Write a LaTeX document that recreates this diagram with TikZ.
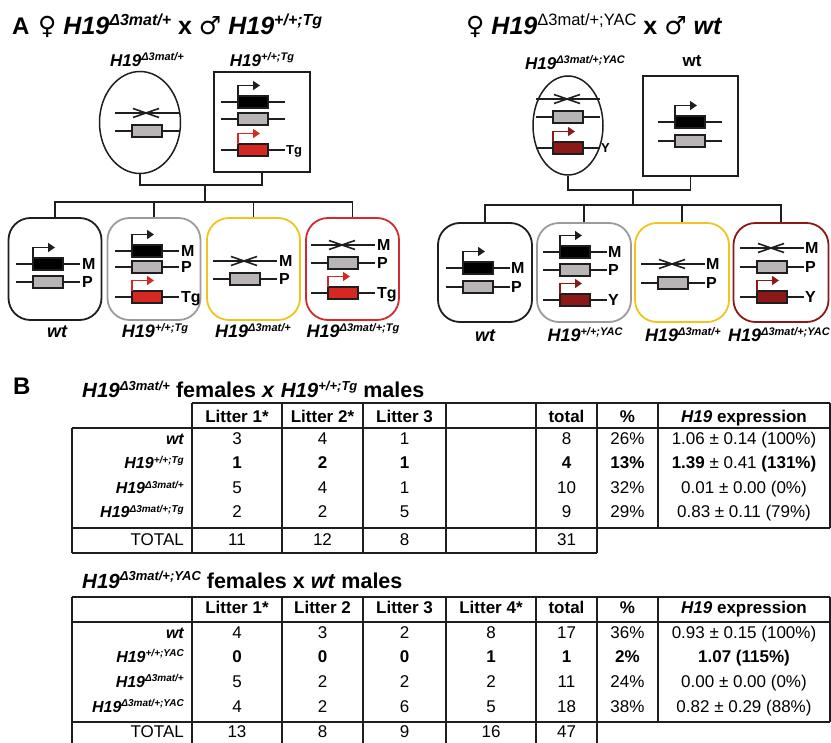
\documentclass[tikz,border=0pt]{standalone}
\usepackage{fontspec}
\setmainfont{Liberation Sans}
\newfontfamily\symfont{DejaVu Sans}
\usetikzlibrary{shapes.geometric,arrows.meta}

\definecolor{ink}{RGB}{30,30,30}
\definecolor{boxgray}{RGB}{185,181,183}
\definecolor{tgred}{RGB}{214,40,32}
\definecolor{yacred}{RGB}{140,24,24}
\definecolor{kidgray}{RGB}{156,154,154}
\definecolor{kidyellow}{RGB}{240,196,30}
\definecolor{kidred}{RGB}{212,42,42}

\newcommand{\fsz}[1]{\fontsize{#1}{#1}\selectfont}
\newcommand{\hgeno}[3]{{\bfseries\itshape\fsz{#1}H19\raisebox{0.36em}{\fsz{#2}#3}}}

\begin{document}
\begin{tikzpicture}[x=1pt,y=-1pt,
  dna/.style={line width=1.6pt,draw=ink},
  tss/.style={line width=1.6pt,-{Triangle[length=7pt,width=9pt]}},
  parent/.style={draw=ink,line width=1.5pt,inner sep=0pt},
  kid/.style={draw,line width=1.8pt,rounded corners=22pt,minimum width=93pt,minimum height=102pt,inner sep=0pt},
  link/.style={line width=1.6pt,draw=ink},
  lab/.style={anchor=base west,inner sep=0pt,font=\fsz{16}\bfseries},
  tlab/.style={anchor=base west,inner sep=0pt,font=\fsz{13}\bfseries},
  glab/.style={anchor=base,inner sep=0pt},
  cell/.style={anchor=base,inner sep=0pt,font=\fsz{17}},
  rowlab/.style={anchor=base east,inner sep=0pt},
  grid/.style={line width=1.3pt,draw=ink}]

  \useasboundingbox (0,0) rectangle (831,743);

  % Allele drawing helpers: box left x, line y
  \def\allele#1#2#3{%
    \draw[dna] (#1-17,#2) -- (#1+47,#2);
    \draw[dna,fill=#3] (#1,#2-6) rectangle (#1+30,#2+6);}
  \def\promoter#1#2#3{%
    \draw[tss,#3] (#1,#2-6) -- (#1,#2-16.5) -- (#1+22,#2-16.5);}
  \def\deleted#1#2{%
    \draw[dna] (#1-17,#2) -- (#1+47,#2);
    \draw[dna] (#1+1,#2-4.5) -- (#1+27,#2+4.5);
    \draw[dna] (#1+1,#2+4.5) -- (#1+27,#2-4.5);}

  % ---------------- Panel A, left cross ----------------
  \node[anchor=base west,inner sep=0pt,font=\fsz{24}\bfseries] (headA) at (12,35) {A};
  \node[anchor=base west,inner sep=0pt,font=\fsz{25}\bfseries] (crossA) at (38,35)
    {{\symfont ♀} \hgeno{25}{16}{Δ3mat/+} x {\symfont ♂} \hgeno{25}{16}{+/+;Tg}};

  % Parents
  \node[glab] (labfa) at (147,67) {\hgeno{17}{11}{Δ3mat/+}};
  \node[glab] (labma) at (262,67) {\hgeno{17}{11}{+/+;Tg}};
  \node[parent,ellipse,minimum width=81pt,minimum height=102pt] (fa) at (140,122.5) {};
  \node[parent,minimum width=96pt,minimum height=100pt] (ma) at (262,122) {};

  \deleted{132}{113}
  \allele{132}{131}{boxgray}

  \allele{238}{102}{black}
  \promoter{238}{102}{ink}
  \allele{238}{119}{boxgray}
  \allele{238}{150}{tgred}
  \promoter{238}{150}{tgred}
  \node[tlab] (tgma) at (286,154.7) {Tg};

  % Offspring
  \node[kid,draw=ink] (k1) at (55,269) {};
  \node[kid,draw=kidgray] (k2) at (154,269) {};
  \node[kid,draw=kidyellow] (k3) at (253.5,269) {};
  \node[kid,draw=kidred] (k4) at (352.5,269) {};

  % wt
  \allele{33}{264}{black}
  \promoter{33}{264}{ink}
  \allele{33}{282}{boxgray}
  \node[lab] (k1m) at (82,270) {M};
  \node[lab] (k1p) at (82,288) {P};
  % +/+;Tg
  \allele{132}{251}{black}
  \promoter{132}{251}{ink}
  \allele{132}{267}{boxgray}
  \allele{132}{297}{tgred}
  \promoter{132}{297}{tgred}
  \node[lab] (k2m) at (181,257) {M};
  \node[lab] (k2p) at (181,273) {P};
  \node[lab] (k2t) at (181,303) {Tg};
  % delta3mat/+
  \deleted{230}{261}
  \allele{230}{279}{boxgray}
  \node[lab] (k3m) at (279,267) {M};
  \node[lab] (k3p) at (279,285) {P};
  % delta3mat/+;Tg
  \deleted{328}{245}
  \allele{328}{263}{boxgray}
  \allele{328}{293}{tgred}
  \promoter{328}{293}{tgred}
  \node[lab] (k4m) at (377,251) {M};
  \node[lab] (k4p) at (377,269) {P};
  \node[lab] (k4t) at (377,299) {Tg};

  \node[glab,font=\fsz{18}\bfseries\itshape] (wk1) at (57,338) {wt};
  \node[glab] (wk2) at (155,338) {\hgeno{18}{11}{+/+;Tg}};
  \node[glab] (wk3) at (253,338) {\hgeno{18}{11}{Δ3mat/+}};
  \node[glab] (wk4) at (353,338) {\hgeno{18}{11}{Δ3mat/+;Tg}};

  % Pedigree lines
  \coordinate (ja) at (205,185);
  \coordinate (ba) at (205,202);
  \draw[link] (fa.south) |- (ja) -| (ma.south);
  \draw[link] (ja) -- (ba);
  \draw[link] (k1.north) |- (ba) -| (k4.north);
  \draw[link] (k2.north) -- (k2.north |- ba);
  \draw[link] (k3.north) -- (k3.north |- ba);

  % ---------------- Panel A, right cross ----------------
  \node[anchor=base west,inner sep=0pt,font=\fsz{25}\bfseries] (crossB) at (466,35)
    {{\symfont ♀} {\itshape H19}\raisebox{0.36em}{\fsz{16.5}\mdseries Δ3mat/+;YAC} x {\symfont ♂} \textit{wt}};

  % Parents
  \node[glab] (labfb) at (575,70) {\hgeno{17}{11}{Δ3mat/+;YAC}};
  \node[glab,font=\fsz{17}\bfseries] (labmb) at (692,67) {wt};
  \node[parent,ellipse,minimum width=70pt,minimum height=99pt] (fb) at (568,125.5) {};
  \node[parent,minimum width=95pt,minimum height=100pt] (mb) at (690.5,126) {};

  \deleted{553}{99}
  \allele{553}{117}{boxgray}
  \allele{553}{148}{yacred}
  \promoter{553}{148}{yacred}
  \node[tlab] (yfb) at (601,152.7) {Y};

  \allele{675}{122}{black}
  \promoter{675}{122}{ink}
  \allele{675}{141}{boxgray}

  % Offspring
  \node[kid,draw=ink,minimum width=94pt,minimum height=99pt] (r1) at (485,272.5) {};
  \node[kid,draw=kidgray,minimum width=94pt,minimum height=99pt] (r2) at (584,272.5) {};
  \node[kid,draw=kidyellow,minimum width=94pt,minimum height=99pt] (r3) at (682,272.5) {};
  \node[kid,draw=yacred,minimum width=95pt,minimum height=99pt] (r4) at (781,272.5) {};

  % wt
  \allele{463}{268}{black}
  \promoter{463}{268}{ink}
  \allele{463}{287}{boxgray}
  \node[lab] (r1m) at (511,274) {M};
  \node[lab] (r1p) at (511,293) {P};
  % +/+;YAC
  \allele{560}{252}{black}
  \promoter{560}{252}{ink}
  \allele{560}{270}{boxgray}
  \allele{560}{300}{yacred}
  \promoter{560}{300}{yacred}
  \node[lab] (r2m) at (608,258) {M};
  \node[lab] (r2p) at (608,276) {P};
  \node[lab] (r2y) at (608,306) {Y};
  % delta3mat/+
  \deleted{658}{264}
  \allele{658}{283}{boxgray}
  \node[lab] (r3m) at (706,270) {M};
  \node[lab] (r3p) at (706,289) {P};
  % delta3mat/+;YAC
  \deleted{757}{248}
  \allele{757}{267}{boxgray}
  \allele{757}{297}{yacred}
  \promoter{757}{297}{yacred}
  \node[lab] (r4m) at (805,254) {M};
  \node[lab] (r4p) at (805,273) {P};
  \node[lab] (r4y) at (805,303) {Y};

  \node[glab,font=\fsz{18}\bfseries\itshape] (wr1) at (485,342) {wt};
  \node[glab] (wr2) at (585,342) {\hgeno{18}{11}{+/+;YAC}};
  \node[glab] (wr3) at (683,342) {\hgeno{18}{11}{Δ3mat/+}};
  \node[glab] (wr4) at (779,342) {\hgeno{18}{11}{Δ3mat/+;YAC}};

  % Pedigree lines
  \coordinate (jb) at (633,190);
  \coordinate (bb) at (633,205);
  \draw[link] (fb.south) |- (jb) -| (mb.south);
  \draw[link] (jb) -- (bb);
  \draw[link] (r1.north) |- (bb) -| (r4.north);
  \draw[link] (r2.north) -- (r2.north |- bb);
  \draw[link] (r3.north) -- (r3.north |- bb);

  % ---------------- Panel B, first table ----------------
  \node[anchor=base west,inner sep=0pt,font=\fsz{24}\bfseries] (headB) at (13,395) {B};
  \node[anchor=base west,inner sep=0pt,font=\fsz{21.5}\bfseries] (ttlA) at (82,398)
    {\hgeno{20.5}{13}{Δ3mat/+} females \textit{x} \hgeno{20.5}{13}{+/+;Tg} males};

  \draw[grid] (192,403) -- (830,403) (72,428) -- (830,428) (72,528) -- (830,528) (72,553) -- (597,553);
  \draw[grid] (72,428) -- (72,553) (192,403) -- (192,553) (282,403) -- (282,553) (363,403) -- (363,553)
    (446,403) -- (446,553) (536,403) -- (536,553) (597,403) -- (597,553) (658,403) -- (658,528) (830,403) -- (830,528);

  \node[cell,font=\fsz{17}\bfseries] (p01) at (237,423) {Litter 1*};
  \node[cell,font=\fsz{17}\bfseries] (p02) at (322.5,423) {Litter 2*};
  \node[cell,font=\fsz{17}\bfseries] (p03) at (404.5,423) {Litter 3};
  \node[cell,font=\fsz{17}\bfseries] (p05) at (566.5,423) {total};
  \node[cell,font=\fsz{17}\bfseries] (p06) at (627.5,423) {\%};
  \node[cell,font=\fsz{17}\bfseries] (p07) at (744,423) {\textit{H19} expression};

  \node[rowlab,font=\fsz{16}\bfseries\itshape] (p10) at (184,445) {wt};
  \node[rowlab] (p20) at (184,469) {\hgeno{16}{10}{+/+;Tg}};
  \node[rowlab] (p30) at (184,494) {\hgeno{16}{10}{Δ3mat/+}};
  \node[rowlab] (p40) at (184,518) {\hgeno{16}{10}{Δ3mat/+;Tg}};
  \node[rowlab,font=\fsz{17}] (p50) at (184,545) {TOTAL};

  \node[cell] (p11) at (237,445) {3};   \node[cell] (p12) at (322.5,445) {4};
  \node[cell] (p13) at (404.5,445) {1}; \node[cell] (p15) at (566.5,445) {8};
  \node[cell] (p16) at (627.5,445) {26\%};
  \node[cell] (p17) at (744,445) {1.06 ± 0.14 (100\%)};

  \node[cell,font=\fsz{17}\bfseries] (p21) at (237,469) {1};
  \node[cell,font=\fsz{17}\bfseries] (p22) at (322.5,469) {2};
  \node[cell,font=\fsz{17}\bfseries] (p23) at (404.5,469) {1};
  \node[cell,font=\fsz{17}\bfseries] (p25) at (566.5,469) {4};
  \node[cell,font=\fsz{17}\bfseries] (p26) at (627.5,469) {13\%};
  \node[cell] (p27) at (744,469) {\textbf{1.39} ± 0.41 \textbf{(131\%)}};

  \node[cell] (p31) at (237,494) {5};   \node[cell] (p32) at (322.5,494) {4};
  \node[cell] (p33) at (404.5,494) {1}; \node[cell] (p35) at (566.5,494) {10};
  \node[cell] (p36) at (627.5,494) {32\%};
  \node[cell] (p37) at (744,494) {0.01 ± 0.00 (0\%)};

  \node[cell] (p41) at (237,518) {2};   \node[cell] (p42) at (322.5,518) {2};
  \node[cell] (p43) at (404.5,518) {5}; \node[cell] (p45) at (566.5,518) {9};
  \node[cell] (p46) at (627.5,518) {29\%};
  \node[cell] (p47) at (744,518) {0.83 ± 0.11 (79\%)};

  \node[cell] (p51) at (237,545) {11};  \node[cell] (p52) at (322.5,545) {12};
  \node[cell] (p53) at (404.5,545) {8}; \node[cell] (p55) at (566.5,545) {31};

  % ---------------- Panel B, second table ----------------
  \node[anchor=base west,inner sep=0pt,font=\fsz{21.5}\bfseries] (ttlB) at (82,588)
    {\hgeno{20.5}{13}{Δ3mat/+;YAC} females x \textit{wt} males};

  \draw[grid] (72,597) -- (830,597) (72,622) -- (830,622) (72,722) -- (830,722);
  \draw[grid] (72,597) -- (72,750) (192,597) -- (192,750) (282,597) -- (282,750) (363,597) -- (363,750)
    (446,597) -- (446,750) (536,597) -- (536,750) (597,597) -- (597,750) (658,597) -- (658,722) (830,597) -- (830,722);

  \node[cell,font=\fsz{17}\bfseries] (q01) at (237,613) {Litter 1*};
  \node[cell,font=\fsz{17}\bfseries] (q02) at (322.5,613) {Litter 2};
  \node[cell,font=\fsz{17}\bfseries] (q03) at (404.5,613) {Litter 3};
  \node[cell,font=\fsz{17}\bfseries] (q04) at (491,613) {Litter 4*};
  \node[cell,font=\fsz{17}\bfseries] (q05) at (566.5,613) {total};
  \node[cell,font=\fsz{17}\bfseries] (q06) at (627.5,613) {\%};
  \node[cell,font=\fsz{17}\bfseries] (q07) at (744,613) {\textit{H19} expression};

  \node[rowlab,font=\fsz{16}\bfseries\itshape] (q10) at (184,638) {wt};
  \node[rowlab] (q20) at (184,662) {\hgeno{16}{10}{+/+;YAC}};
  \node[rowlab] (q30) at (184,687) {\hgeno{16}{10}{Δ3mat/+}};
  \node[rowlab] (q40) at (184,712) {\hgeno{16}{10}{Δ3mat/+;YAC}};
  \node[rowlab,font=\fsz{17}] (q50) at (184,737) {TOTAL};

  \node[cell] (q11) at (237,638) {4};   \node[cell] (q12) at (322.5,638) {3};
  \node[cell] (q13) at (404.5,638) {2}; \node[cell] (q14) at (491,638) {8};
  \node[cell] (q15) at (566.5,638) {17};\node[cell] (q16) at (627.5,638) {36\%};
  \node[cell] (q17) at (744,638) {0.93 ± 0.15 (100\%)};

  \node[cell,font=\fsz{17}\bfseries] (q21) at (237,662) {0};
  \node[cell,font=\fsz{17}\bfseries] (q22) at (322.5,662) {0};
  \node[cell,font=\fsz{17}\bfseries] (q23) at (404.5,662) {0};
  \node[cell,font=\fsz{17}\bfseries] (q24) at (491,662) {1};
  \node[cell,font=\fsz{17}\bfseries] (q25) at (566.5,662) {1};
  \node[cell,font=\fsz{17}\bfseries] (q26) at (627.5,662) {2\%};
  \node[cell,font=\fsz{17}\bfseries] (q27) at (744,662) {1.07 (115\%)};

  \node[cell] (q31) at (237,687) {5};   \node[cell] (q32) at (322.5,687) {2};
  \node[cell] (q33) at (404.5,687) {2}; \node[cell] (q34) at (491,687) {2};
  \node[cell] (q35) at (566.5,687) {11};\node[cell] (q36) at (627.5,687) {24\%};
  \node[cell] (q37) at (744,687) {0.00 ± 0.00 (0\%)};

  \node[cell] (q41) at (237,712) {4};   \node[cell] (q42) at (322.5,712) {2};
  \node[cell] (q43) at (404.5,712) {6}; \node[cell] (q44) at (491,712) {5};
  \node[cell] (q45) at (566.5,712) {18};\node[cell] (q46) at (627.5,712) {38\%};
  \node[cell] (q47) at (744,712) {0.82 ± 0.29 (88\%)};

  \node[cell] (q51) at (237,737) {13};  \node[cell] (q52) at (322.5,737) {8};
  \node[cell] (q53) at (404.5,737) {9}; \node[cell] (q54) at (491,737) {16};
  \node[cell] (q55) at (566.5,737) {47};

\end{tikzpicture}
\end{document}
